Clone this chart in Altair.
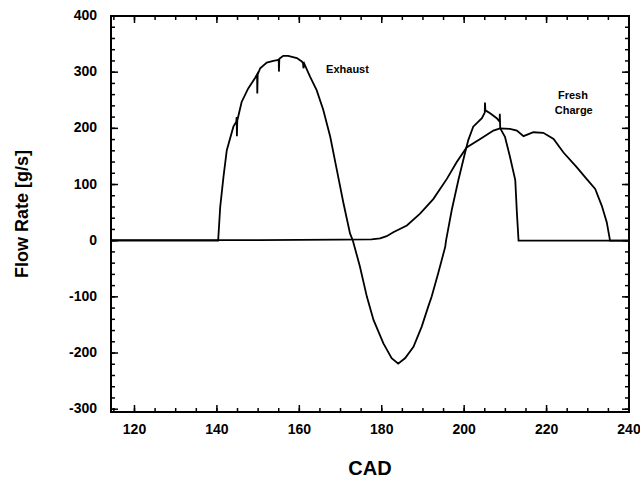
import altair as alt
import pandas as pd

# ---- data ----
exhaust_cad = [114.3, 140.3, 140.8, 141.6, 142.4, 144.0, 144.7, 144.8, 144.85, 144.95, 146.0, 147.6,
               149.3, 149.75, 149.8, 149.9, 150.5, 152.1, 153.7, 155.0, 155.05, 155.15, 156.1, 157.3,
               159.4, 160.6, 160.9, 161.0, 161.2, 162.6, 164.2, 165.8, 167.5, 169.1, 170.7, 172.3,
               173.0, 174.7, 176.4, 178.0, 180.4, 182.4, 184.0, 185.7, 187.7, 189.7, 191.3, 192.1,
               193.7, 195.4, 195.6, 197.0, 198.6, 200.2, 201.0, 202.2, 204.3, 205.0, 205.05, 205.15,
               206.3, 207.9, 208.6, 208.65, 208.75, 209.9, 211.1, 212.4, 212.8, 213.2, 240.0]
exhaust_flow = [0, 0, 60, 114, 161, 203, 212, 220, 186, 214, 247, 271,
                290, 296, 262, 296, 307, 317, 320, 322, 301, 324, 329, 329,
                325, 319, 316, 307, 315, 292, 268, 233, 185, 126, 67, 13,
                0, -46, -100, -141, -183, -209, -219, -209, -189, -153, -117, -100,
                -58, -11, 0, 55, 108, 156, 179, 203, 218, 228, 246, 232,
                227, 218, 212, 226, 200, 185, 150, 108, 49, 0, 0]

fresh_cad = [114.3, 150.0, 170.0, 177.5, 179.6, 181.2, 182.8, 186.1, 189.3, 192.5, 195.8, 198.2,
             200.6, 203.9, 207.1, 208.7, 211.1, 212.8, 214.4, 216.8, 219.2, 221.7, 224.1, 227.3,
             229.7, 231.8, 233.4, 234.6, 235.4, 240.0]
fresh_flow = [1, 1, 2, 2.5, 4, 8, 15, 27, 48, 74, 110, 140,
              166, 181, 196, 200, 199, 196, 186, 193, 192, 181, 157, 131,
              110, 92, 62, 33, 0, 0]

label_text = ["Exhaust", "Fresh", "Charge"]
label_cad = [166.5, 226.4, 226.6]
label_flow = [303, 257, 230]

x_major = [120, 140, 160, 180, 200, 220, 240]
x_labels = ["120", "140", "160", "180", "200", "220", "240"]
x_minor = list(range(115, 241, 5))
y_major = [-300, -200, -100, 0, 100, 200, 300, 400]
y_labels = ["-300", "-200", "-100", "0", "100", "200", "300", "400"]
y_minor = list(range(-300, 401, 20))
x_title = "CAD"
y_title = "Flow Rate  [g/s]"

X_DOMAIN = [114.3, 240]
Y_DOMAIN = [-305, 400]
W, H = 518, 396
FONT = "Liberation Sans"
MAJOR, MINOR = 7, 4  # tick lengths in pixels

rows = []
for i, (c, f) in enumerate(zip(exhaust_cad, exhaust_flow)):
    rows.append({"series": "Exhaust", "cad": c, "flow": f, "i": i})
for i, (c, f) in enumerate(zip(fresh_cad, fresh_flow)):
    rows.append({"series": "Fresh Charge", "cad": c, "flow": f, "i": i})
df = pd.DataFrame(rows)

labels_df = pd.DataFrame({"text": label_text, "cad": label_cad, "flow": label_flow})

xscale = alt.Scale(domain=X_DOMAIN, nice=False, zero=False)
yscale = alt.Scale(domain=Y_DOMAIN, nice=False, zero=False)
x_per_px = (X_DOMAIN[1] - X_DOMAIN[0]) / W
y_per_px = (Y_DOMAIN[1] - Y_DOMAIN[0]) / H


def X(f):
    return alt.X(f, scale=xscale, axis=None)


def Y(f):
    return alt.Y(f, scale=yscale, axis=None)


# inward ticks on all four sides, drawn as short two-point line segments through the scales
tick_rows = []
k = 0
for vals, size in ((x_minor, MINOR), (x_major, MAJOR)):
    for v in vals:
        for base, sign in ((Y_DOMAIN[0], 1), (Y_DOMAIN[1], -1)):
            tick_rows.append({"id": k, "j": 0, "cx": v, "fy": base})
            tick_rows.append({"id": k, "j": 1, "cx": v, "fy": base + sign * size * y_per_px})
            k += 1
for vals, size in ((y_minor, MINOR), (y_major, MAJOR)):
    for v in vals:
        for base, sign in ((X_DOMAIN[0], 1), (X_DOMAIN[1], -1)):
            tick_rows.append({"id": k, "j": 0, "cx": base, "fy": v})
            tick_rows.append({"id": k, "j": 1, "cx": base + sign * size * x_per_px, "fy": v})
            k += 1
ticks_df = pd.DataFrame(tick_rows)

ticks = alt.Chart(ticks_df).mark_line(color="black", strokeWidth=1.5).encode(
    x=X("cx:Q"), y=Y("fy:Q"), detail="id:N", order="j:Q",
)

lines = alt.Chart(df).mark_line(color="black", strokeWidth=1.8).encode(
    x=X("cad:Q"), y=Y("flow:Q"), detail="series:N", order="i:Q",
)

texts_left = alt.Chart(labels_df.iloc[[0]]).mark_text(
    font=FONT, fontSize=11, fontWeight="bold", color="black", baseline="middle", align="left"
).encode(x=X("cad:Q"), y=Y("flow:Q"), text="text:N")
texts_center = alt.Chart(labels_df.iloc[1:]).mark_text(
    font=FONT, fontSize=11, fontWeight="bold", color="black", baseline="middle", align="center"
).encode(x=X("cad:Q"), y=Y("flow:Q"), text="text:N")

# axis tick labels and titles
xlab = alt.Chart(pd.DataFrame({"v": x_major, "t": x_labels})).mark_text(
    font=FONT, fontSize=14, fontWeight="bold", color="black", align="center", baseline="middle"
).encode(x=X("v:Q"), y=alt.value(H + 18), text="t:N")

ylab = alt.Chart(pd.DataFrame({"v": y_major, "t": y_labels})).mark_text(
    font=FONT, fontSize=14, fontWeight="bold", color="black", align="right", baseline="middle"
).encode(y=Y("v:Q"), x=alt.value(-14), text="t:N")

xtitle = alt.Chart(pd.DataFrame({"t": [x_title]})).mark_text(
    font=FONT, fontSize=20, fontWeight="bold", color="black", align="center", baseline="middle"
).encode(x=alt.value(W / 2), y=alt.value(H + 57), text="t:N")

ytitle = alt.Chart(pd.DataFrame({"t": [y_title]})).mark_text(
    font=FONT, fontSize=18, fontWeight="bold", color="black", align="center", baseline="middle",
    angle=270
).encode(x=alt.value(-88), y=alt.value(H / 2), text="t:N")

chart = alt.layer(ticks, lines, texts_left, texts_center, xlab, ylab, xtitle, ytitle).properties(
    width=W, height=H,
    autosize=alt.AutoSizeParams(type="none"),
    padding={"left": 111, "top": 16, "right": 11, "bottom": 70},
    background="white",
).configure_view(stroke="black", strokeWidth=2)

chart.save("out.html", embed_options={"renderer": "svg", "actions": False})
